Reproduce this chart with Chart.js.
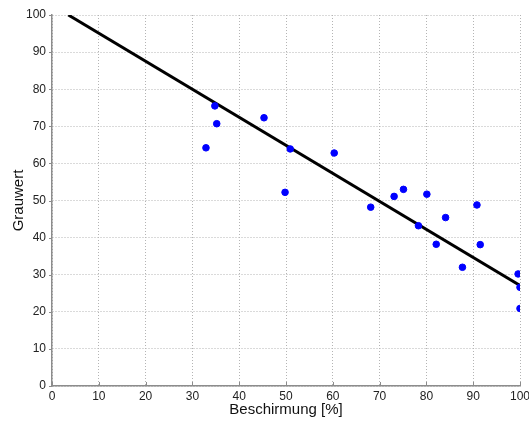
<!DOCTYPE html>
<html>
<head>
<meta charset="utf-8">
<script src="https://cdn.jsdelivr.net/npm/chart.js@4/dist/chart.umd.min.js"></script>
<style>
  html, body { margin: 0; padding: 0; background: #fff; }
  #wrap { width: 529px; height: 421px; }
</style>
</head>
<body>
<div id="wrap"><canvas id="chart" width="529" height="421"></canvas></div>
<script>
// measured samples: shielding (%) vs. grey value
const beschirmung = [34.8, 35.2, 32.9, 45.3, 50.9, 49.8, 60.3, 68.1, 73.1, 75.1,
                     80.1, 78.3, 84.1, 82.1, 90.8, 91.5, 87.7, 99.6, 100, 100];
const grauwert = [75.5, 70.7, 64.2, 72.3, 63.9, 52.2, 62.8, 48.2, 51.1, 53.0,
                  51.7, 43.2, 45.4, 38.2, 48.8, 38.1, 32.0, 30.2, 26.6, 20.9];

// regression line end points
const fitX = [3.5, 100];
const fitY = [100, 27.1];

const tickValues = [0, 10, 20, 30, 40, 50, 60, 70, 80, 90, 100];

const points = beschirmung.map((x, i) => ({ x: x, y: grauwert[i] }));
const fitLine = fitX.map((x, i) => ({ x: x, y: fitY[i] }));

const axisColor = "#8c8c8c";
const font = { family: "'Liberation Sans', Arial, sans-serif", size: 12 };

// short solid tick marks, MATLAB style
const tickMarks = {
  id: "tickMarks",
  afterDraw(chart) {
    const ctx = chart.ctx;
    const xs = chart.scales.x, ys = chart.scales.y;
    const area = chart.chartArea;
    ctx.save();
    ctx.strokeStyle = axisColor;
    ctx.lineWidth = 1;
    ctx.beginPath();
    tickValues.forEach((v) => {
      const px = Math.round(xs.getPixelForValue(v)) + 0.5;
      ctx.moveTo(px, area.bottom);
      ctx.lineTo(px, area.bottom - 4);
      const py = Math.round(ys.getPixelForValue(v)) + 0.5;
      ctx.moveTo(area.left - 3, py);
      ctx.lineTo(area.left, py);
    });
    ctx.stroke();
    ctx.restore();
  },
};

new Chart(document.getElementById("chart"), {
  type: "scatter",
  data: {
    datasets: [
      {
        type: "line",
        data: fitLine,
        borderColor: "#000",
        borderWidth: 3,
        pointRadius: 0,
        fill: false,
        order: 2,
      },
      {
        data: points,
        backgroundColor: "#0000ff",
        borderColor: "#0000ff",
        pointRadius: 3.3,
        order: 1,
      },
    ],
  },
  options: {
    responsive: false,
    animation: false,
    layout: { padding: { left: 0, top: 15, right: 9, bottom: 0 } },
    plugins: { legend: { display: false }, tooltip: { enabled: false } },
    scales: {
      x: {
        min: 0,
        max: 100,
        afterBuildTicks: (s) => { s.ticks = tickValues.map((v) => ({ value: v })); },
        afterFit: (s) => {
          s.height = 35;
          s.paddingLeft = 0;
          s.paddingRight = 0;
        },
        border: { color: axisColor, width: 1.5, dash: [1, 2] },
        grid: { color: "#b4b4b4", lineWidth: 1, drawTicks: false },
        ticks: { color: "#222", font: font, padding: 3, maxRotation: 0 },
        title: {
          display: true,
          text: "Beschirmung [%]",
          color: "#111",
          font: { family: font.family, size: 15 },
          padding: { top: 0, bottom: 2 },
        },
      },
      y: {
        min: 0,
        max: 100,
        afterBuildTicks: (s) => { s.ticks = tickValues.map((v) => ({ value: v })); },
        afterFit: (s) => { s.width = 52; },
        border: { color: axisColor, width: 1.5, dash: [1, 2] },
        grid: { color: "#b4b4b4", lineWidth: 1, drawTicks: false },
        ticks: { color: "#222", font: font, padding: 6 },
        title: {
          display: true,
          text: "Grauwert",
          color: "#111",
          font: { family: font.family, size: 15 },
          padding: { top: 10, bottom: 4 },
        },
      },
    },
  },
  plugins: [tickMarks],
});
</script>
</body>
</html>
